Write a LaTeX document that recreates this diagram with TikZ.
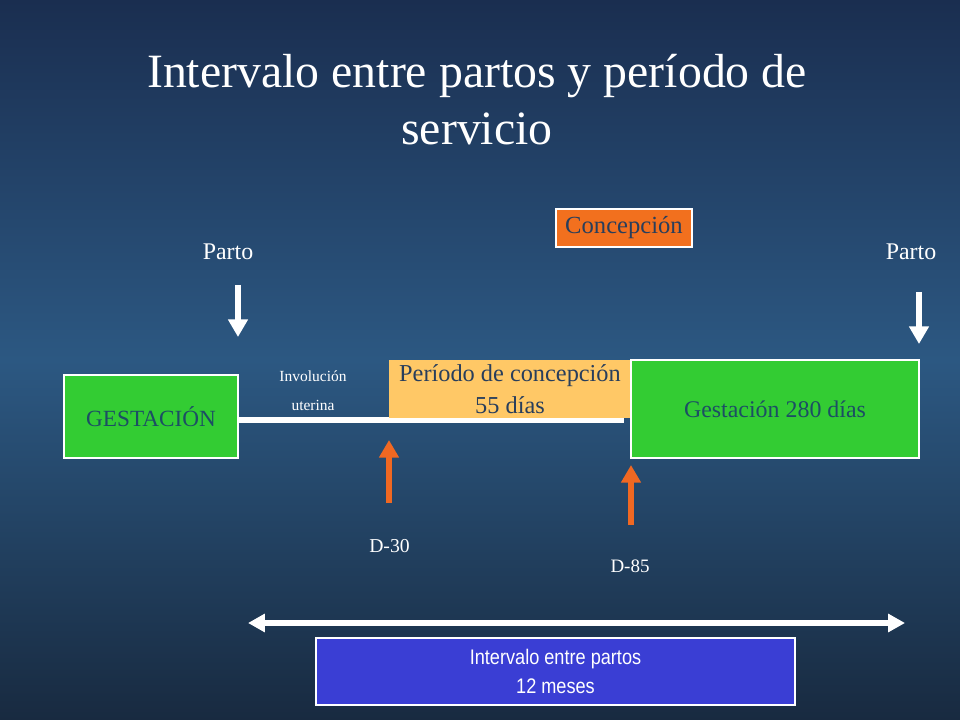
\documentclass[tikz,border=0pt]{standalone}
\usepackage{fontspec}
\setmainfont{Liberation Serif}
\setsansfont{Liberation Sans}
\newfontfamily\narrowsans[FakeStretch=0.86]{Liberation Sans}
\usetikzlibrary{arrows.meta,positioning}
\definecolor{bgtop}{RGB}{26,46,80}
\definecolor{bgmid}{RGB}{44,88,130}
\definecolor{bgbot}{RGB}{24,42,64}
\definecolor{grass}{RGB}{51,204,51}
\definecolor{tealtext}{RGB}{28,78,100}
\definecolor{concorange}{RGB}{242,112,30}
\definecolor{periodo}{RGB}{255,200,102}
\definecolor{boxtext}{RGB}{40,62,92}
\definecolor{arroworange}{RGB}{240,104,34}
\definecolor{interblue}{RGB}{58,62,212}

\begin{document}
\begin{tikzpicture}[x=0.025cm,y=-0.025cm,inner sep=0pt,
                    whitearrow/.style={white,line width=4.2pt,-{Triangle[width=13.5pt,length=12.5pt]}},
                    orangearrow/.style={arroworange,line width=3.8pt,-{Triangle[width=13.5pt,length=12.5pt]}}]
  \tikzstyle{box}=[draw=white,line width=0.9pt,align=center]
  \tikzstyle{label}=[text=white,font=\fontsize{17}{20}\selectfont]

  \shade[top color=bgtop,bottom color=bgbot,middle color=bgmid] (0,0) rectangle (960,720);
  \useasboundingbox (0,0) rectangle (960,720);

  \node[text=white,align=center,font=\fontsize{34}{40.5}\selectfont] (title) at (477,100)
       {Intervalo entre partos y período de\\servicio};

  \node[label] (partoL) at (228,252) {Parto};
  \node[label] (partoR) at (911,252) {Parto};
  \node[box,fill=concorange,text=boxtext,minimum width=136*0.025cm,minimum height=38*0.025cm,
        font=\fontsize{17.5}{20}\selectfont] (concep) at (624,228) {Concepción};

  \coordinate (partoLa) at (238,285);
  \coordinate (partoLb) at (238,337);
  \coordinate (partoRa) at (919,292);
  \coordinate (partoRb) at (919,344);
  \draw[whitearrow] (partoLa) -- (partoLb);
  \draw[whitearrow] (partoRa) -- (partoRb);

  \node[box,fill=grass,text=tealtext,minimum width=174*0.025cm,minimum height=83*0.025cm,
        font=\fontsize{16.5}{20}\selectfont] (gest) at (151,416.5) {GESTACIÓN};
  \node[text=white,align=center,font=\fontsize{11}{20.6}\selectfont] (invol) at (313,390.5)
       {Involución\\uterina};

  \coordinate (lineL) at (gest.east |- 0,420);
  \coordinate (lineR) at (624,420);
  \draw[white,line width=4pt] (lineL) -- (lineR);

  \node[fill=periodo,text=boxtext,align=center,minimum width=242*0.025cm,minimum height=58*0.025cm,
        font=\fontsize{17.3}{23}\selectfont] (periodo) at (510,389)
       {Período de concepción\\55 días};
  \node[box,fill=grass,text=tealtext,minimum width=288*0.025cm,minimum height=98*0.025cm,
        font=\fontsize{17}{20}\selectfont] (gest280) at (775,409) {Gestación 280 días};

  \coordinate (d30a) at (389,503);
  \coordinate (d30b) at (389,440);
  \coordinate (d85a) at (631,525);
  \coordinate (d85b) at (631,465);
  \draw[orangearrow] (d30a) -- (d30b);
  \draw[orangearrow] (d85a) -- (d85b);
  \node[text=white,font=\fontsize{14}{16}\selectfont] (d30) at (389.5,546) {D-30};
  \node[text=white,font=\fontsize{13.5}{16}\selectfont] (d85) at (630,566) {D-85};

  \coordinate (ivL) at (248,623);
  \coordinate (ivR) at (905,623);
  \draw[white,line width=3.6pt,{Triangle[width=12.5pt,length=12pt]}-{Triangle[width=12.5pt,length=12pt]}] (ivL) -- (ivR);

  \node[box,fill=interblue,text=white,minimum width=479*0.025cm,minimum height=67*0.025cm,
        font=\narrowsans\fontsize{15}{20}\selectfont] (interv) at (555.5,671.5)
       {Intervalo entre partos\\12 meses};
\end{tikzpicture}
\end{document}
